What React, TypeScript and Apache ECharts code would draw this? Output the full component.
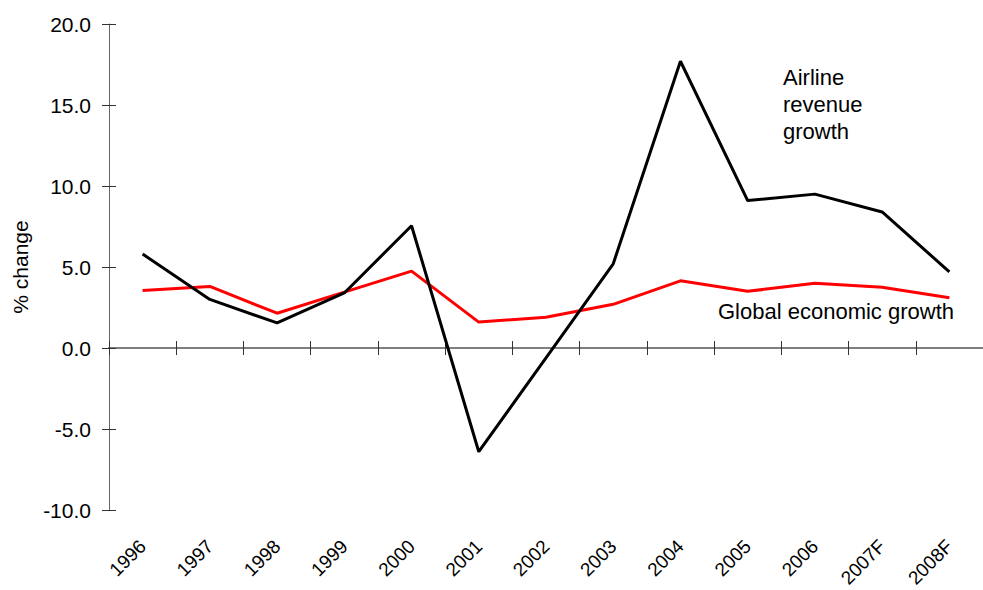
import React, { useEffect, useRef } from "react";
import * as echarts from "echarts";

const categories = ["1996", "1997", "1998", "1999", "2000", "2001", "2002", "2003", "2004", "2005", "2006", "2007F", "2008F"];
const airlineRevenueGrowth = [5.8, 3.0, 1.55, 3.4, 7.55, -6.4, -0.6, 5.2, 17.7, 9.1, 9.5, 8.4, 4.7];
const globalEconomicGrowth = [3.55, 3.8, 2.15, 3.45, 4.75, 1.6, 1.9, 2.7, 4.15, 3.5, 4.0, 3.75, 3.1];
const yMin = -10;
const yMax = 20;
const yInterval = 5;

const FONT = "Liberation Sans, Arial, Helvetica, sans-serif";

export default function App() {
  const ref = useRef<HTMLDivElement>(null);

  useEffect(() => {
    if (!ref.current) return;
    const chart = echarts.init(ref.current, null, { renderer: "svg" });
    const axisLineGray = { color: "#7f7f7f", width: 2 };
    chart.setOption({
      animation: false,
      backgroundColor: "#ffffff",
      grid: { left: 109, top: 24, bottom: 77, right: -7, containLabel: false },
      xAxis: [
        {
          type: "category",
          data: categories,
          position: "bottom",
          boundaryGap: true,
          axisLine: { show: true, onZero: true, lineStyle: axisLineGray },
          axisTick: { show: true, inside: false, length: 7, lineStyle: { color: "#333", width: 1 } },
          axisLabel: { show: false },
          splitLine: { show: false },
        },
        {
          type: "category",
          data: categories,
          position: "bottom",
          boundaryGap: true,
          axisLine: { show: true, onZero: true, lineStyle: axisLineGray },
          axisTick: { show: true, inside: true, length: 7, lineStyle: { color: "#333", width: 1 } },
          axisLabel: { show: false },
          splitLine: { show: false },
        },
        {
          type: "category",
          data: categories,
          position: "bottom",
          boundaryGap: true,
          axisLine: { show: false, onZero: false },
          axisTick: { show: false },
          axisLabel: {
            show: true,
            interval: 0,
            rotate: 45,
            margin: 33,
            fontSize: 19,
            fontFamily: FONT,
            color: "#000",
          },
          splitLine: { show: false },
        },
      ],
      yAxis: [
        {
          type: "value",
          min: yMin,
          max: yMax,
          interval: yInterval,
          position: "left",
          name: "% change",
          nameLocation: "middle",
          nameGap: 78,
          nameRotate: 90,
          nameTextStyle: { fontSize: 21, fontFamily: FONT, color: "#000" },
          axisLine: { show: true, lineStyle: { color: "#666", width: 1 } },
          axisTick: { show: true, inside: false, length: 7, lineStyle: { color: "#333", width: 1 } },
          axisLabel: {
            margin: 18,
            fontSize: 21,
            fontFamily: FONT,
            color: "#000",
            formatter: (v: number) => v.toFixed(1),
          },
          splitLine: { show: false },
        },
        {
          type: "value",
          min: yMin,
          max: yMax,
          interval: yInterval,
          position: "left",
          axisLine: { show: false },
          axisTick: { show: true, inside: true, length: 7, lineStyle: { color: "#333", width: 1 } },
          axisLabel: { show: false },
          splitLine: { show: false },
        },
      ],
      series: [
        {
          name: "Global economic growth",
          type: "line",
          data: globalEconomicGrowth,
          xAxisIndex: 0,
          yAxisIndex: 0,
          symbol: "none",
          lineStyle: { color: "#ff0000", width: 3 },
          itemStyle: { color: "#ff0000" },
          z: 2,
        },
        {
          name: "Airline revenue growth",
          type: "line",
          data: airlineRevenueGrowth,
          xAxisIndex: 0,
          yAxisIndex: 0,
          symbol: "none",
          lineStyle: { color: "#000000", width: 3 },
          itemStyle: { color: "#000000" },
          z: 3,
        },
      ],
      graphic: [
        {
          type: "text",
          left: 783,
          top: 64,
          style: {
            text: "Airline\nrevenue\ngrowth",
            font: `22px ${FONT}`,
            lineHeight: 27,
            fill: "#000",
          },
        },
        {
          type: "text",
          left: 718,
          top: 300,
          style: {
            text: "Global economic growth",
            font: `22px ${FONT}`,
            fill: "#000",
          },
        },
      ],
    });
    return () => chart.dispose();
  }, []);

  return (
    <div
      ref={ref}
      style={{ position: "fixed", left: 0, top: 0, width: 983, height: 590, background: "#fff" }}
    />
  );
}
